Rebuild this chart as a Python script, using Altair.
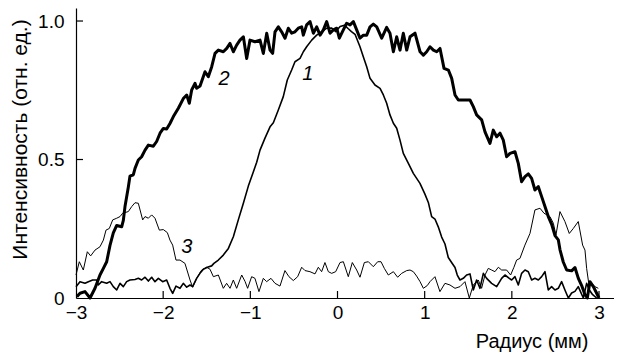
import altair as alt
import pandas as pd

# Curve 1 (medium line): radius (mm), intensity (rel. units)
curve1 = [(-3.0, 0.041), (-2.954, 0.059), (-2.897, 0.053), (-2.858, 0.059), (-2.809, 0.065),
          (-2.763, 0.065), (-2.744, 0.047), (-2.706, 0.059), (-2.648, 0.053), (-2.61, 0.059),
          (-2.572, 0.041), (-2.533, 0.029), (-2.495, 0.053), (-2.457, 0.041), (-2.419, 0.059),
          (-2.381, 0.065), (-2.323, 0.067), (-2.285, 0.071), (-2.247, 0.065), (-2.208, 0.075),
          (-2.17, 0.061), (-2.132, 0.075), (-2.094, 0.059), (-2.055, 0.071), (-2.006, 0.059),
          (-1.96, 0.065), (-1.922, 0.035), (-1.891, 0.017), (-1.853, 0.043), (-1.807, 0.035),
          (-1.769, 0.053), (-1.73, 0.039), (-1.692, 0.047), (-1.662, 0.041), (-1.616, 0.071),
          (-1.578, 0.089), (-1.539, 0.104), (-1.493, 0.111), (-1.444, 0.116), (-1.418, 0.125),
          (-1.367, 0.137), (-1.31, 0.155), (-1.252, 0.179), (-1.195, 0.221), (-1.138, 0.282),
          (-1.08, 0.342), (-1.023, 0.404), (-0.966, 0.455), (-0.927, 0.49), (-0.889, 0.534),
          (-0.832, 0.577), (-0.774, 0.618), (-0.736, 0.633), (-0.679, 0.679), (-0.622, 0.727),
          (-0.576, 0.787), (-0.526, 0.823), (-0.488, 0.853), (-0.43, 0.865), (-0.392, 0.889),
          (-0.354, 0.907), (-0.296, 0.931), (-0.239, 0.949), (-0.182, 0.961), (-0.124, 0.974),
          (-0.07, 0.975), (-0.02, 0.962), (0.03, 0.98), (0.08, 0.985), (0.124, 0.972),
          (0.16, 0.962), (0.201, 0.952), (0.258, 0.907), (0.296, 0.871), (0.335, 0.835),
          (0.373, 0.793), (0.43, 0.769), (0.488, 0.757), (0.526, 0.733), (0.564, 0.703),
          (0.602, 0.661), (0.641, 0.631), (0.679, 0.613), (0.717, 0.570), (0.755, 0.522),
          (0.813, 0.486), (0.87, 0.450), (0.946, 0.414), (1.003, 0.375), (1.042, 0.345),
          (1.08, 0.294), (1.118, 0.285), (1.156, 0.257), (1.195, 0.22), (1.233, 0.195),
          (1.271, 0.146), (1.309, 0.128), (1.348, 0.11), (1.374, 0.083), (1.405, 0.065),
          (1.443, 0.071), (1.481, 0.083), (1.52, 0.087), (1.558, 0.029), (1.596, 0.065),
          (1.634, 0.035), (1.673, 0.089), (1.711, 0.071), (1.768, 0.053), (1.826, 0.041),
          (1.883, 0.071), (1.921, 0.083), (1.971, 0.071), (1.998, 0.065), (2.036, 0.077),
          (2.074, 0.047), (2.112, 0.089), (2.151, 0.101), (2.189, 0.095), (2.227, 0.065),
          (2.265, 0.071), (2.304, 0.065), (2.342, 0.077), (2.38, 0.095), (2.418, 0.029),
          (2.456, 0.041), (2.495, 0.029), (2.533, 0.035), (2.571, 0.059), (2.609, 0.029),
          (2.648, 0.0), (2.686, 0.018), (2.724, 0.024), (2.762, 0.041), (2.82, 0.0),
          (2.858, 0.053), (2.889, 0.029), (2.927, 0.012), (2.973, 0.0)]

# Curve 2 (thick line)
curve2 = [(-2.99, 0.005), (-2.954, 0.017), (-2.897, 0.023), (-2.839, 0.0), (-2.782, 0.035),
          (-2.725, 0.083), (-2.686, 0.107), (-2.648, 0.131), (-2.61, 0.19), (-2.572, 0.235),
          (-2.533, 0.262), (-2.476, 0.257), (-2.457, 0.28), (-2.438, 0.33), (-2.40, 0.40),
          (-2.381, 0.44), (-2.342, 0.445), (-2.323, 0.468), (-2.285, 0.498), (-2.247, 0.51),
          (-2.208, 0.534), (-2.17, 0.552), (-2.113, 0.548), (-2.075, 0.565), (-2.036, 0.595),
          (-1.998, 0.612), (-1.96, 0.61), (-1.922, 0.63), (-1.883, 0.655), (-1.826, 0.685),
          (-1.769, 0.72), (-1.73, 0.733), (-1.70, 0.703), (-1.673, 0.751), (-1.635, 0.775),
          (-1.616, 0.757), (-1.577, 0.765), (-1.52, 0.817), (-1.482, 0.799), (-1.443, 0.835),
          (-1.405, 0.883), (-1.367, 0.895), (-1.31, 0.889), (-1.271, 0.901), (-1.233, 0.919),
          (-1.195, 0.889), (-1.157, 0.913), (-1.119, 0.931), (-1.08, 0.943), (-1.042, 0.865),
          (-1.004, 0.931), (-0.947, 0.925), (-0.889, 0.931), (-0.851, 0.883), (-0.812, 0.956),
          (-0.774, 0.895), (-0.744, 0.883), (-0.717, 0.961), (-0.679, 0.979), (-0.641, 0.961),
          (-0.602, 0.938), (-0.564, 0.974), (-0.526, 0.956), (-0.488, 0.961), (-0.45, 0.974),
          (-0.411, 0.979), (-0.392, 0.949), (-0.354, 0.986), (-0.315, 0.998), (-0.277, 0.956),
          (-0.239, 0.979), (-0.2, 0.949), (-0.162, 0.968), (-0.124, 0.998), (-0.086, 0.956),
          (-0.048, 0.968), (-0.009, 0.974), (0.021, 0.938), (0.067, 0.968), (0.105, 0.992),
          (0.144, 0.986), (0.182, 0.998), (0.22, 0.968), (0.258, 0.938), (0.297, 0.949),
          (0.335, 0.949), (0.373, 0.979), (0.411, 0.989), (0.45, 0.979), (0.507, 0.938),
          (0.564, 0.977), (0.602, 0.956), (0.641, 0.889), (0.679, 0.943), (0.717, 0.895),
          (0.755, 0.956), (0.794, 0.895), (0.832, 0.943), (0.889, 0.956), (0.947, 0.889),
          (0.985, 0.877), (1.023, 0.889), (1.061, 0.907), (1.1, 0.895), (1.138, 0.889),
          (1.176, 0.901), (1.222, 0.829), (1.272, 0.823), (1.31, 0.793), (1.348, 0.733),
          (1.386, 0.715), (1.444, 0.715), (1.52, 0.715), (1.558, 0.691), (1.596, 0.661),
          (1.654, 0.643), (1.692, 0.600), (1.749, 0.558), (1.787, 0.606), (1.826, 0.582),
          (1.864, 0.595), (1.902, 0.570), (1.94, 0.510), (1.979, 0.522), (2.036, 0.528),
          (2.074, 0.486), (2.112, 0.420), (2.151, 0.438), (2.189, 0.448), (2.227, 0.432),
          (2.265, 0.390), (2.304, 0.402), (2.342, 0.366), (2.38, 0.330), (2.418, 0.294),
          (2.457, 0.266), (2.495, 0.225), (2.533, 0.21), (2.552, 0.175), (2.59, 0.13),
          (2.629, 0.101), (2.686, 0.098), (2.724, 0.11), (2.763, 0.071), (2.801, 0.045),
          (2.839, 0.012), (2.866, 0.0), (2.896, 0.059), (2.935, 0.041), (2.973, 0.017),
          (3.0, 0.0)]

# Curve 3 (thin line)
curve3 = [(-3.0, 0.083), (-2.962, 0.131), (-2.916, 0.101), (-2.870, 0.167), (-2.832, 0.152),
          (-2.782, 0.173), (-2.725, 0.185), (-2.686, 0.209), (-2.656, 0.245), (-2.618, 0.251),
          (-2.579, 0.282), (-2.533, 0.288), (-2.495, 0.294), (-2.465, 0.306), (-2.40, 0.312),
          (-2.361, 0.330), (-2.323, 0.344), (-2.285, 0.342), (-2.235, 0.282), (-2.208, 0.294),
          (-2.17, 0.288), (-2.132, 0.300), (-2.094, 0.288), (-2.044, 0.245), (-1.998, 0.247),
          (-1.952, 0.236), (-1.922, 0.209), (-1.891, 0.191), (-1.853, 0.137), (-1.807, 0.137),
          (-1.750, 0.125), (-1.692, 0.065), (-1.662, 0.039), (-1.616, 0.071), (-1.558, 0.101),
          (-1.501, 0.111), (-1.463, 0.104), (-1.424, 0.077), (-1.367, 0.083), (-1.31, 0.035),
          (-1.272, 0.053), (-1.233, 0.035), (-1.195, 0.065), (-1.157, 0.035), (-1.099, 0.083),
          (-1.061, 0.06), (-1.031, 0.035), (-0.985, 0.077), (-0.947, 0.071), (-0.901, 0.023),
          (-0.851, 0.071), (-0.813, 0.059), (-0.763, 0.071), (-0.717, 0.053), (-0.660, 0.043),
          (-0.603, 0.099), (-0.557, 0.077), (-0.507, 0.063), (-0.457, 0.077), (-0.411, 0.111),
          (-0.373, 0.099), (-0.316, 0.095), (-0.258, 0.087), (-0.220, 0.111), (-0.182, 0.095),
          (-0.144, 0.128), (-0.105, 0.095), (-0.067, 0.089), (-0.021, 0.095), (0.029, 0.128),
          (0.067, 0.131), (0.124, 0.077), (0.170, 0.128), (0.220, 0.101), (0.258, 0.075),
          (0.308, 0.128), (0.354, 0.131), (0.411, 0.113), (0.461, 0.131), (0.499, 0.131),
          (0.537, 0.107), (0.583, 0.083), (0.641, 0.095), (0.690, 0.075), (0.736, 0.089),
          (0.794, 0.099), (0.832, 0.101), (0.870, 0.095), (0.908, 0.079), (0.947, 0.059),
          (0.985, 0.035), (1.03, 0.045), (1.061, 0.059), (1.118, 0.077), (1.175, 0.023),
          (1.233, 0.053), (1.290, 0.047), (1.348, 0.035), (1.405, 0.041), (1.462, 0.059),
          (1.512, 0.0), (1.558, 0.047), (1.615, 0.065), (1.653, 0.035), (1.692, 0.083),
          (1.730, 0.107), (1.768, 0.101), (1.806, 0.095), (1.845, 0.111), (1.883, 0.101),
          (1.940, 0.101), (1.986, 0.083), (2.024, 0.111), (2.055, 0.137), (2.093, 0.143),
          (2.150, 0.191), (2.208, 0.233), (2.265, 0.318), (2.323, 0.324), (2.369, 0.306),
          (2.437, 0.294), (2.476, 0.270), (2.506, 0.227), (2.552, 0.312), (2.609, 0.276),
          (2.659, 0.233), (2.705, 0.251), (2.762, 0.276), (2.812, 0.191), (2.839, 0.173),
          (2.858, 0.107), (2.885, 0.047), (2.915, 0.053), (2.954, 0.041), (2.992, 0.035)]

# Curve number labels (italic), placed at data coordinates
label_text = ["1", "2", "3"]
label_x = [-0.34, -1.30, -1.73]
label_y = [0.81, 0.79, 0.185]

x_ticks = [-3, -2, -1, 0, 1, 2, 3]
y_ticks = [0, 0.5, 1.0]
x_inner_ticks = [-2, -1, 0, 1, 2, 3]
y_inner_ticks = [0.5, 1.0]

FONT = "Liberation Sans"
W, H = 538, 290
X_DOMAIN = [-3, 3.172]
Y_DOMAIN = [0, 1.047]

x_scale = alt.Scale(domain=X_DOMAIN, nice=False, zero=False)
y_scale = alt.Scale(domain=Y_DOMAIN, nice=False, zero=False)

x_axis = alt.Axis(
    values=x_ticks, labelExpr="datum.value < 0 ? '\u2212' + abs(datum.value) : '' + datum.value",
    ticks=False, grid=False, domainColor="black", domainWidth=1.2, labelFlush=False,
    labelFont=FONT, labelFontSize=19, labelColor="black", labelPadding=5,
    title="Радиус (мм)", titleFont=FONT, titleFontSize=20, titleFontWeight="normal",
    titleColor="black", titleX=512, titleY=49, titleAlign="right", titleBaseline="alphabetic",
)
y_axis = alt.Axis(
    values=y_ticks, labelExpr="datum.value == 0 ? '0' : format(datum.value, '.1f')",
    ticks=False, grid=False, domainColor="black", domainWidth=1.2,
    labelFont=FONT, labelFontSize=19, labelColor="black", labelPadding=12,
    title="Интенсивность (отн. ед.)", titleFont=FONT, titleFontSize=21,
    titleFontWeight="normal", titleColor="black", titleX=-50, titleY=131,
    titleAlign="center", titleBaseline="alphabetic", titleAngle=270,
)

def xenc():
    return alt.X("x:Q", scale=x_scale, axis=x_axis)

def yenc():
    return alt.Y("y:Q", scale=y_scale, axis=y_axis)

def line(pts, width):
    df = pd.DataFrame(pts, columns=["x", "y"])
    df["i"] = range(len(df))
    return alt.Chart(df).mark_line(color="black", strokeWidth=width, strokeJoin="round").encode(
        x=xenc(), y=yenc(), order="i:Q"
    )

l1 = line(curve1, 1.6)
l2 = line(curve2, 3.0)
l3 = line(curve3, 1.0)

tick_len_y = 7 / 277
tick_len_x = 7 / 87.17

xt_df = pd.DataFrame({"x": x_inner_ticks, "y": [0.0] * len(x_inner_ticks),
                      "y2": [tick_len_y] * len(x_inner_ticks)})
xt = alt.Chart(xt_df).mark_rule(color="black", strokeWidth=1.2).encode(
    x=xenc(), y=yenc(), y2="y2:Q"
)
yt_df = pd.DataFrame({"y": y_inner_ticks, "x": [-3.0] * len(y_inner_ticks),
                      "x2": [-3.0 + tick_len_x] * len(y_inner_ticks)})
yt = alt.Chart(yt_df).mark_rule(color="black", strokeWidth=1.2).encode(
    x=xenc(), x2="x2:Q", y=yenc()
)

lab_df = pd.DataFrame({"x": label_x, "y": label_y, "t": label_text})
labels = alt.Chart(lab_df).mark_text(
    font=FONT, fontSize=20, fontStyle="italic", color="black"
).encode(x=xenc(), y=yenc(), text="t:N")

chart = alt.layer(xt, yt, l3, l1, l2, labels).properties(
    width=W, height=H,
    autosize=alt.AutoSizeParams(type="none"),
    padding={"left": 68, "top": 0, "right": 0, "bottom": 55},
    background="white",
).configure_view(stroke=None)

chart.save("out.html", embed_options={"renderer": "svg", "actions": False})
